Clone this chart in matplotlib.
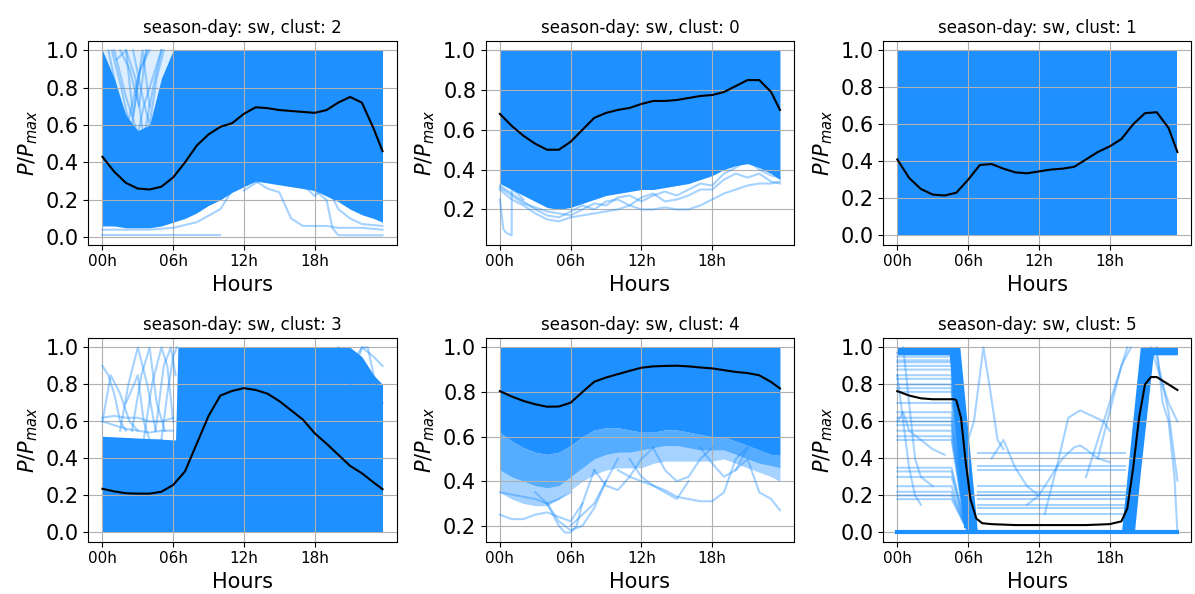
import matplotlib.pyplot as plt
from matplotlib.ticker import MultipleLocator, FormatStrFormatter

# hourly grid (last sample is 23:45)
hours = [0, 1, 2, 3, 4, 5, 6, 7, 8, 9, 10, 11, 12, 13, 14, 15, 16, 17, 18, 19, 20, 21, 22, 23, 23.75]
tick_hours = [0, 6, 12, 18]
tick_labels = ['00h', '06h', '12h', '18h']

# --- clust 2 ---
c2_mean = [0.43, 0.35, 0.29, 0.26, 0.255, 0.27, 0.32, 0.40, 0.49, 0.55, 0.59, 0.61, 0.66, 0.695, 0.69, 0.68,
           0.675, 0.67, 0.665, 0.68, 0.72, 0.75, 0.72, 0.58, 0.46]
c2_lo = [0.06, 0.06, 0.05, 0.05, 0.05, 0.06, 0.08, 0.10, 0.13, 0.17, 0.20, 0.24, 0.27, 0.30, 0.29, 0.28,
         0.27, 0.26, 0.25, 0.22, 0.19, 0.15, 0.12, 0.10, 0.08]
c2_hi = [1.0, 0.85, 0.65, 0.57, 0.6, 0.85, 1.0, 1.0, 1.0, 1.0, 1.0, 1.0, 1.0, 1.0, 1.0, 1.0,
         1.0, 1.0, 1.0, 1.0, 1.0, 1.0, 1.0, 1.0, 1.0]
c2_faint = [
    ([0, 3, 6, 9, 10], [0.01, 0.01, 0.01, 0.01, 0.01]),
    ([0, 2, 4, 6, 8, 10, 11], [0.04, 0.04, 0.04, 0.05, 0.08, 0.15, 0.25]),
    ([10, 11, 12, 13, 14, 15, 16, 17, 18, 19, 20, 21, 22, 23.75],
     [0.22, 0.25, 0.28, 0.30, 0.26, 0.24, 0.10, 0.06, 0.06, 0.06, 0.05, 0.05, 0.05, 0.04]),
    ([12, 13, 14, 15, 16, 17, 18, 19, 19.5, 20, 22, 23.75],
     [0.25, 0.29, 0.32, 0.30, 0.28, 0.27, 0.25, 0.20, 0.05, 0.01, 0.01, 0.01]),
    ([17, 18, 19, 20, 21, 22, 23.75], [0.28, 0.22, 0.28, 0.15, 0.10, 0.07, 0.06]),
    ([0.5, 1.5, 2.5, 3.2, 4], [1.0, 0.7, 0.6, 0.9, 1.0]),
    ([1, 2, 3, 3.5, 4.5, 5], [1.0, 0.75, 0.55, 0.7, 0.9, 1.0]),
    ([2, 2.8, 3.5, 4.3, 5], [1.0, 0.85, 0.53, 0.8, 1.0]),
    ([1.2, 2, 2.6, 3.4, 4], [0.95, 1.0, 0.65, 1.0, 0.7]),
    ([0.8, 1.6, 2.2, 3, 3.8], [1.0, 0.8, 0.62, 0.85, 1.0]),
    ([2.6, 3.4, 4, 4.6, 5.2], [1.0, 0.75, 0.6, 0.85, 1.0]),
    ([1.5, 2.3, 3.1, 3.7], [1.0, 0.9, 0.7, 1.0]),
]

# --- clust 0 ---
c0_mean = [0.68, 0.62, 0.57, 0.53, 0.50, 0.50, 0.54, 0.60, 0.66, 0.685, 0.70, 0.71, 0.73, 0.745, 0.745, 0.75,
           0.76, 0.77, 0.775, 0.79, 0.82, 0.85, 0.85, 0.79, 0.70]
c0_lo = [0.33, 0.30, 0.27, 0.24, 0.21, 0.20, 0.21, 0.23, 0.25, 0.27, 0.28, 0.29, 0.30, 0.30, 0.31, 0.32,
         0.33, 0.35, 0.37, 0.40, 0.42, 0.43, 0.41, 0.38, 0.35]
c0_hi = [1.0] * 25
c0_faint = [
    ([0, 0.3, 0.6, 1, 1.01, 1.5, 2], [0.25, 0.10, 0.08, 0.07, 0.30, 0.28, 0.25]),
    (hours, [0.30, 0.25, 0.22, 0.18, 0.15, 0.14, 0.16, 0.17, 0.18, 0.19, 0.20, 0.22, 0.20, 0.20, 0.21,
             0.20, 0.20, 0.22, 0.25, 0.28, 0.30, 0.32, 0.33, 0.33, 0.34]),
    (hours, [0.32, 0.28, 0.24, 0.20, 0.17, 0.16, 0.19, 0.22, 0.20, 0.24, 0.25, 0.22, 0.26, 0.28, 0.24,
             0.25, 0.27, 0.30, 0.30, 0.35, 0.38, 0.36, 0.38, 0.34, 0.33]),
    (hours, [0.31, 0.27, 0.23, 0.21, 0.19, 0.18, 0.17, 0.2, 0.23, 0.22, 0.26, 0.27, 0.24, 0.27, 0.29,
             0.27, 0.3, 0.33, 0.32, 0.38, 0.41, 0.45, 0.40, 0.37, 0.36]),
]

# --- clust 1 ---
c1_mean = [0.41, 0.31, 0.25, 0.22, 0.215, 0.23, 0.30, 0.38, 0.385, 0.36, 0.34, 0.335, 0.345, 0.355, 0.36, 0.37,
           0.41, 0.45, 0.48, 0.52, 0.60, 0.66, 0.665, 0.58, 0.45]
c1_lo = [0.0] * 25
c1_hi = [1.0] * 25

# --- clust 3 ---
c3_mean = [0.236, 0.222, 0.212, 0.21, 0.21, 0.22, 0.257, 0.33, 0.48, 0.63, 0.74, 0.765, 0.78, 0.77, 0.75, 0.71,
           0.66, 0.61, 0.536, 0.48, 0.42, 0.36, 0.32, 0.27, 0.234]
c3_band_x = [0, 6.2, 6.4, 20, 21, 22, 23, 23.75]
c3_lo = [0.0, 0.0, 0.0, 0.0, 0.0, 0.0, 0.0, 0.0]
c3_hi = [0.52, 0.5, 1.0, 1.0, 1.0, 0.95, 0.85, 0.8]
c3_faint = [
    ([0, 0.5, 1, 1.5, 2], [0.9, 0.85, 0.75, 0.6, 0.55]),
    ([0, 1, 2, 3, 4, 5, 6], [0.62, 0.63, 0.62, 0.62, 0.6, 0.6, 0.62]),
    ([0, 1, 2, 3, 4, 5, 6], [0.6, 0.58, 0.56, 0.55, 0.54, 0.55, 0.55]),
    ([1.5, 2.2, 3, 3.8, 4.5], [0.55, 0.8, 1.0, 0.8, 0.55]),
    ([2.5, 3.3, 4, 4.6, 5.3], [0.55, 0.85, 1.0, 0.7, 0.55]),
    ([3.5, 4.2, 5, 5.5, 6], [0.5, 0.8, 1.0, 0.9, 0.6]),
    ([0, 0.7, 1.5, 2.3, 3], [0.6, 0.85, 0.75, 0.6, 0.55]),
    ([4.5, 5.2, 5.8, 6.2], [0.55, 0.9, 1.0, 0.85]),
    ([2, 3, 3.5, 4, 5], [0.7, 0.85, 0.6, 0.5, 0.5]),
    ([5, 5.5, 6, 6.3], [0.5, 0.75, 0.95, 1.0]),
    ([20, 21, 22, 23, 23.75], [1.0, 0.9, 1.0, 0.95, 0.9]),
    ([21, 22, 22.5, 23, 23.75], [0.8, 1.0, 1.0, 0.85, 0.7]),
]

# --- clust 4 ---
c4_mean = [0.804, 0.78, 0.76, 0.745, 0.734, 0.735, 0.752, 0.80, 0.846, 0.865, 0.88, 0.895, 0.909, 0.915, 0.917,
           0.918, 0.915, 0.91, 0.906, 0.898, 0.89, 0.885, 0.875, 0.845, 0.816]
c4_lo = [0.62, 0.58, 0.55, 0.53, 0.52, 0.53, 0.56, 0.60, 0.63, 0.64, 0.64, 0.63, 0.62, 0.62, 0.63, 0.63,
         0.62, 0.61, 0.60, 0.60, 0.58, 0.56, 0.54, 0.52, 0.52]
c4_lo2 = [0.45, 0.42, 0.40, 0.38, 0.37, 0.38, 0.42, 0.46, 0.50, 0.52, 0.53, 0.53, 0.54, 0.55, 0.56, 0.56,
          0.55, 0.54, 0.54, 0.54, 0.52, 0.50, 0.48, 0.47, 0.46]
c4_lo3 = [0.35, 0.32, 0.30, 0.29, 0.29, 0.32, 0.36, 0.40, 0.43, 0.45, 0.46, 0.46, 0.46, 0.48, 0.49, 0.49,
          0.49, 0.49, 0.49, 0.50, 0.48, 0.46, 0.44, 0.42, 0.40]
c4_hi = [1.0] * 25
c4_faint = [
    ([0, 1, 2, 3, 4, 5, 6, 7], [0.25, 0.23, 0.23, 0.25, 0.26, 0.24, 0.22, 0.30]),
    ([3, 4, 5, 5.5, 6, 6.5, 7, 8], [0.35, 0.30, 0.20, 0.17, 0.17, 0.20, 0.30, 0.45]),
    ([4, 5, 6, 7, 8, 9], [0.30, 0.22, 0.18, 0.20, 0.28, 0.40]),
    ([10, 11, 12, 13, 14, 15, 16, 17, 18, 19, 20, 21],
     [0.45, 0.42, 0.40, 0.38, 0.36, 0.33, 0.32, 0.31, 0.31, 0.35, 0.50, 0.55]),
    ([11, 12, 13, 14, 15, 16], [0.50, 0.42, 0.38, 0.35, 0.32, 0.40]),
    ([20, 21, 22, 23, 23.75], [0.45, 0.50, 0.35, 0.32, 0.27]),
    ([6, 7, 8, 9, 10], [0.20, 0.25, 0.30, 0.40, 0.50]),
    ([0, 1, 2, 3, 4, 5, 6], [0.35, 0.34, 0.33, 0.32, 0.30, 0.32, 0.35]),
    ([8, 9, 10, 11, 12, 13], [0.45, 0.38, 0.36, 0.42, 0.5, 0.55]),
    ([13, 14, 15, 16, 17, 18], [0.55, 0.45, 0.4, 0.42, 0.5, 0.55]),
    ([17, 18, 19, 20, 21], [0.55, 0.48, 0.42, 0.45, 0.55]),
]

# --- clust 5 ---
c5_mean_x = [0, 1, 2, 3, 4, 4.8, 5.0, 5.4, 5.8, 6.2, 6.7, 7.2, 8, 10, 12, 14, 16, 18, 19, 19.5, 20, 20.5, 21,
             21.5, 22, 23, 23.75]
c5_mean = [0.764, 0.74, 0.725, 0.72, 0.72, 0.72, 0.715, 0.62, 0.38, 0.18, 0.075, 0.05, 0.045, 0.04, 0.04, 0.04,
           0.04, 0.045, 0.06, 0.13, 0.35, 0.62, 0.80, 0.84, 0.84, 0.80, 0.77]
c5_band_x = [0, 4.4, 5.3, 5.8, 6.8, 19.0, 20.1, 20.6, 21.7, 23.75]
c5_lo = [0.96, 0.96, 0.36, 0.0, 0.0, 0.0, 0.0, 0.32, 0.96, 0.96]
c5_hi = [1.0, 1.0, 1.0, 0.67, 0.0, 0.0, 0.69, 1.0, 1.0, 1.0]
c5_night_levels = [0.97, 0.95, 0.93, 0.92, 0.90, 0.88, 0.85, 0.83, 0.80, 0.78, 0.76, 0.70, 0.65, 0.62, 0.60,
                   0.58, 0.55, 0.52, 0.50, 0.35, 0.33, 0.30, 0.25, 0.22, 0.20, 0.18]
c5_day_levels = [0.43, 0.36, 0.34, 0.25, 0.22, 0.20, 0.18, 0.15, 0.13, 0.10]
c5_faint = [
    ([5.5, 6.5, 7.3, 7.8, 8.5, 9], [0.4, 0.6, 1.0, 0.8, 0.5, 0.45]),
    ([12.5, 13.5, 14.5, 15.5, 16.5, 17.5, 18], [0.1, 0.35, 0.62, 0.66, 0.63, 0.6, 0.55]),
    ([11, 12, 13, 14, 15, 15.5, 16, 17, 18], [0.15, 0.2, 0.3, 0.4, 0.46, 0.47, 0.45, 0.4, 0.38]),
    ([16, 17, 18, 19, 19.8], [0.3, 0.5, 0.7, 0.9, 1.0]),
    ([17, 18, 19, 19.5], [0.4, 0.65, 0.9, 1.0]),
    ([22, 22.5, 23, 23.5, 23.75], [1.0, 0.7, 0.6, 0.3, 0.0]),
    ([21.5, 22, 23, 23.75], [1.0, 0.9, 0.7, 0.6]),
    ([22, 23, 23.75], [0.95, 0.65, 0.28]),
    ([8, 9, 10, 11, 12], [0.4, 0.5, 0.35, 0.25, 0.2]),
    ([0, 0.5, 1, 2, 3, 4], [0.6, 0.65, 0.55, 0.5, 0.45, 0.42]),
    ([0, 0.5, 1, 1.5, 2], [0.85, 0.6, 0.35, 0.2, 0.15]),
    ([0.5, 1, 1.5, 2, 3], [1.0, 0.7, 0.4, 0.3, 0.25]),
]

blue = '#1e90ff'


def style_axes(ax, title):
    ax.set_title(title, fontsize=12)
    ax.set_xticks(tick_hours)
    ax.set_xticklabels(tick_labels, fontsize=11)
    ax.yaxis.set_major_locator(MultipleLocator(0.2))
    ax.yaxis.set_major_formatter(FormatStrFormatter('%.1f'))
    ax.tick_params(axis='y', labelsize=15)
    ax.set_xlabel('Hours', fontsize=15)
    ax.set_ylabel(r'$P/P_{max}$', fontsize=15)
    ax.grid(True, color='#b0b0b0', linewidth=0.8)


def draw_faint(ax, lines):
    for xs, ys in lines:
        ax.plot(xs, ys, color=blue, alpha=0.4, lw=1.5)


fig, axes = plt.subplots(2, 3, figsize=(11.95, 5.94), dpi=100)
plt.subplots_adjust(left=0.074, right=0.997, top=0.931, bottom=0.088, wspace=0.29, hspace=0.46)

# clust 2
ax = axes[0, 0]
ax.fill_between(hours, c2_hi, 1.0, color=blue, alpha=0.15, lw=0)
ax.fill_between(hours, c2_lo, c2_hi, color=blue, lw=0)
draw_faint(ax, c2_faint)
ax.plot(hours, c2_mean, color='black', lw=1.5)
style_axes(ax, 'season-day: sw, clust: 2')

# clust 0
ax = axes[0, 1]
ax.fill_between(hours, c0_lo, c0_hi, color=blue, lw=0)
draw_faint(ax, c0_faint)
ax.plot(hours, c0_mean, color='black', lw=1.5)
style_axes(ax, 'season-day: sw, clust: 0')

# clust 1
ax = axes[0, 2]
ax.fill_between(hours, c1_lo, c1_hi, color=blue, lw=0)
ax.plot(hours, c1_mean, color='black', lw=1.5)
style_axes(ax, 'season-day: sw, clust: 1')

# clust 3
ax = axes[1, 0]
ax.fill_between(c3_band_x, c3_lo, c3_hi, color=blue, lw=0)
draw_faint(ax, c3_faint)
ax.plot(hours, c3_mean, color='black', lw=1.5)
style_axes(ax, 'season-day: sw, clust: 3')

# clust 4
ax = axes[1, 1]
ax.fill_between(hours, c4_lo3, c4_lo2, color=blue, alpha=0.4, lw=0)
ax.fill_between(hours, c4_lo2, c4_lo, color=blue, alpha=0.75, lw=0)
ax.fill_between(hours, c4_lo, c4_hi, color=blue, lw=0)
draw_faint(ax, c4_faint)
ax.plot(hours, c4_mean, color='black', lw=1.5)
style_axes(ax, 'season-day: sw, clust: 4')

# clust 5
ax = axes[1, 2]
for lvl in c5_night_levels:
    ax.plot([0, 4.6, 5.8], [lvl, lvl, 0.03], color=blue, alpha=0.4, lw=1.5)
for lvl in c5_day_levels:
    ax.plot([6.8, 19.3], [lvl, lvl], color=blue, alpha=0.4, lw=1.5)
draw_faint(ax, c5_faint)
ax.fill_between(c5_band_x, c5_lo, c5_hi, color=blue, lw=0)
ax.plot([0, 23.75], [0.0, 0.0], color=blue, lw=3)
ax.plot(c5_mean_x, c5_mean, color='black', lw=1.5)
style_axes(ax, 'season-day: sw, clust: 5')

plt.savefig('out.png', dpi=100)
